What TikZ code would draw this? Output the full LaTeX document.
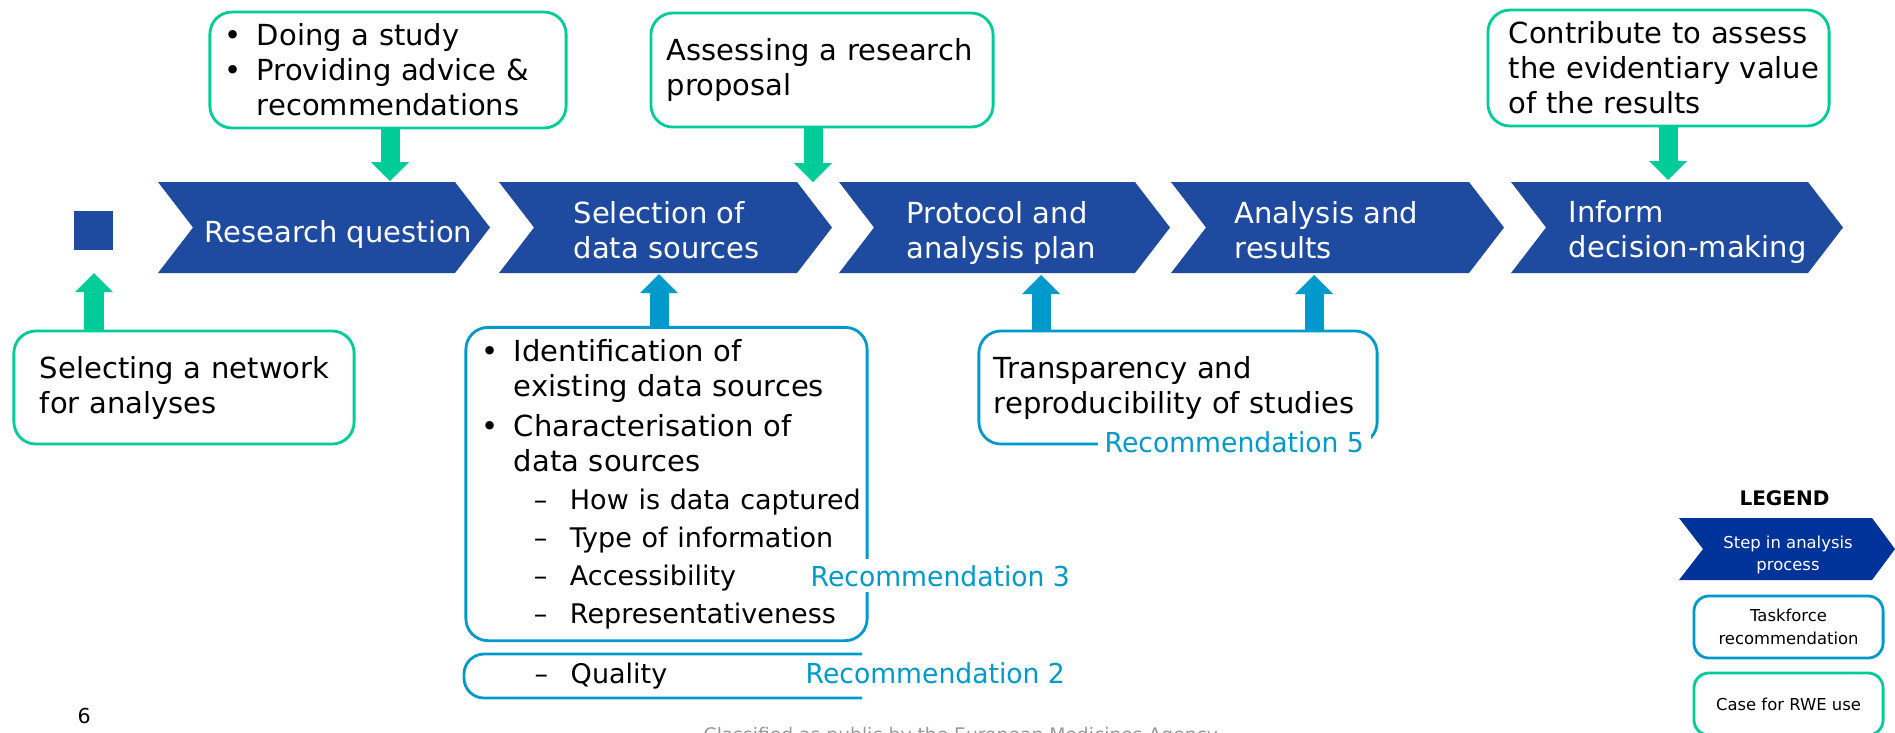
\documentclass[tikz,border=0pt]{standalone}
\usepackage{fontspec}
\setmainfont{DejaVu Sans}
\newfontfamily\recfont[FakeStretch=0.97]{DejaVu Sans}
\usetikzlibrary{arrows.meta}

\definecolor{stepblue}{HTML}{1E4AA0}
\definecolor{legendblue}{HTML}{003399}
\definecolor{casegreen}{HTML}{00CC99}
\definecolor{recblue}{HTML}{0099CC}

% no hyphenation inside the boxes
\hyphenpenalty=10000
\exhyphenpenalty=10000

\newcommand\boxfont{\fontsize{8.25}{9.96}\selectfont}
\newcommand\subfont{\fontsize{7.68}{9.96}\selectfont}
\newcommand\legfont{\fontsize{4.67}{6.4}\selectfont}
\newcommand\itembul{\makebox[0.32cm][l]{\textbullet}}
\newcommand\itemgap{\hspace*{0.32cm}}
\newcommand\itemdash{\hspace*{0.52cm}\makebox[0.36cm][l]{--}}

\tikzset{
  stepfill/.style={fill=stepblue},
  steptext/.style={text=white, font=\boxfont, align=left, inner sep=0pt, anchor=north west},
  casebox/.style={draw=casegreen, line width=0.8pt, rounded corners=0.22cm, font=\boxfont, align=left},
  recbox/.style={draw=recblue, line width=0.8pt, rounded corners=0.22cm, font=\boxfont, align=left},
  casearrow/.style={draw=casegreen, line width=0.19cm, -{Triangle[width=0.38cm,length=0.19cm,line width=0pt]}},
  recarrow/.style={draw=recblue, line width=0.19cm, -{Triangle[width=0.38cm,length=0.19cm,line width=0pt]}},
  recnote/.style={text=recblue, fill=white, font=\recfont\fontsize{7.8}{9.4}\selectfont, inner xsep=0.07cm, inner ysep=0.06cm, anchor=base west},
  legbox/.style={line width=0.8pt, rounded corners=0.15cm, minimum width=1.89cm, minimum height=0.62cm, font=\legfont, align=center, inner sep=0pt}
}

\begin{document}
\begin{tikzpicture}[x=0.01cm, y=-0.01cm]
  \useasboundingbox (0,0) rectangle (1895,732);

  % process steps
  \foreach \l/\r in {158/490, 499/832, 839/1170, 1171/1504, 1511/1843}
    \fill[stepfill] (\l,182) -- (\r-35,182) -- (\r,227.5) -- (\r-35,273) -- (\l,273) -- (\l+35,227.5) -- cycle;
  \node[fill=stepblue, minimum size=0.39cm, inner sep=0pt] (start) at (93.5,230.5) {};

  \node[steptext] (rq) at (204,220) {Research question};
  \node[steptext] (sel) at (573,201) {Selection of\\data sources};
  \node[steptext] (proto) at (906,201) {Protocol and\\analysis plan};
  \node[steptext] (ana) at (1234,201) {Analysis and\\results};
  \node[steptext] (inform) at (1568,200) {Inform\\decision-making};

  % arrow ends on the steps
  \coordinate (start-bot) at (94,273);
  \coordinate (rq-top) at (390,181);
  \coordinate (gap-top) at (813,182);
  \coordinate (inform-top) at (1668,180);
  \coordinate (sel-bot) at (659,274);
  \coordinate (proto-bot) at (1041,275);
  \coordinate (ana-bot) at (1314,275);

  % cases for RWE use
  \node[casebox, minimum width=3.56cm, minimum height=1.14cm, text width=3.26cm] (study) at (388,70)
    {\itembul Doing a study\\\itembul Providing~advice~\&\\\itemgap recommendations};
  \node[casebox, minimum width=3.42cm, minimum height=1.14cm, text width=3.10cm] (proposal) at (822,70)
    {Assessing~a~research\\proposal};
  \node[casebox, minimum width=3.41cm, minimum height=1.14cm, text width=2.99cm] (evid) at (1658.5,68)
    {Contribute~to~assess\\the~evidentiary~value\\of~the~results};
  \node[casebox, minimum width=3.40cm, minimum height=1.13cm, text width=2.88cm] (network) at (184,387.5)
    {Selecting~a~network\\for~analyses};

  % taskforce recommendations
  \node[recbox, minimum width=4.01cm, minimum height=3.10cm, text width=3.69cm] (sources) at (666.5,484)
    {\itembul Identification~of\\
     \itemgap existing~data~sources\\[0.05cm]
     \itembul Characterisation~of\\
     \itemgap data~sources\\[0.03cm]
     \subfont\itemdash How~is~data~captured\\[0.03cm]
     \itemdash Type~of~information\\[0.03cm]
     \itemdash Accessibility\\[0.03cm]
     \itemdash Representativeness};
  \node[recbox, minimum width=3.98cm, minimum height=1.13cm, text width=3.68cm] (transp) at (1178,387.5)
    {Transparency~and\\reproducibility~of~studies};
  \draw[draw=recblue, line width=0.8pt, rounded corners=0.2cm] (862,654) -- (464,654) -- (464,698) -- (862,698);
  \node[font=\subfont, anchor=base west, inner sep=0pt] (quality) at (482,683) {\itemdash Quality};

  \node[recnote] (rec3) at (803,586) {Recommendation 3};
  \node[recnote, fill=none] (rec2) at (798,683) {Recommendation 2};
  \node[recnote, inner ysep=0.05cm] (rec5) at (1097,452) {Recommendation 5};

  % arrows
  \draw[casearrow] (study.south -| rq-top) -- (rq-top);
  \draw[casearrow] (proposal.south -| gap-top) -- (gap-top);
  \draw[casearrow] (evid.south -| inform-top) -- (inform-top);
  \draw[casearrow] (network.north -| start-bot) -- (start-bot);
  \draw[recarrow] (sources.north -| sel-bot) -- (sel-bot);
  \draw[recarrow] (transp.north -| proto-bot) -- (proto-bot);
  \draw[recarrow] (transp.north -| ana-bot) -- (ana-bot);

  % legend
  \node[font=\fontsize{5.7}{7}\selectfont\bfseries, anchor=base, inner sep=0pt] (legend) at (1784.5,505) {LEGEND};
  \fill[fill=legendblue] (1679,518) -- (1872,518) -- (1895,549) -- (1872,580) -- (1679,580) -- (1703,549) -- cycle;
  \node[text=white, font=\legfont, align=center, inner sep=0pt] (legstep) at (1788,555) {Step in analysis\\process};
  \node[legbox, draw=recblue] (legrec) at (1788.5,627) {Taskforce\\recommendation};
  \node[legbox, draw=casegreen] (legcase) at (1788.5,704) {Case for RWE use};

  % page furniture
  \node[font=\fontsize{5.86}{7}\selectfont, anchor=base west, inner sep=0pt] (page) at (77,723) {6};
  \node[text=black!40, font=\fontsize{5.32}{6}\selectfont, anchor=base west, inner sep=0pt] (footer) at (703,741.6)
    {Classified as public by the European Medicines Agency};
\end{tikzpicture}
\end{document}
